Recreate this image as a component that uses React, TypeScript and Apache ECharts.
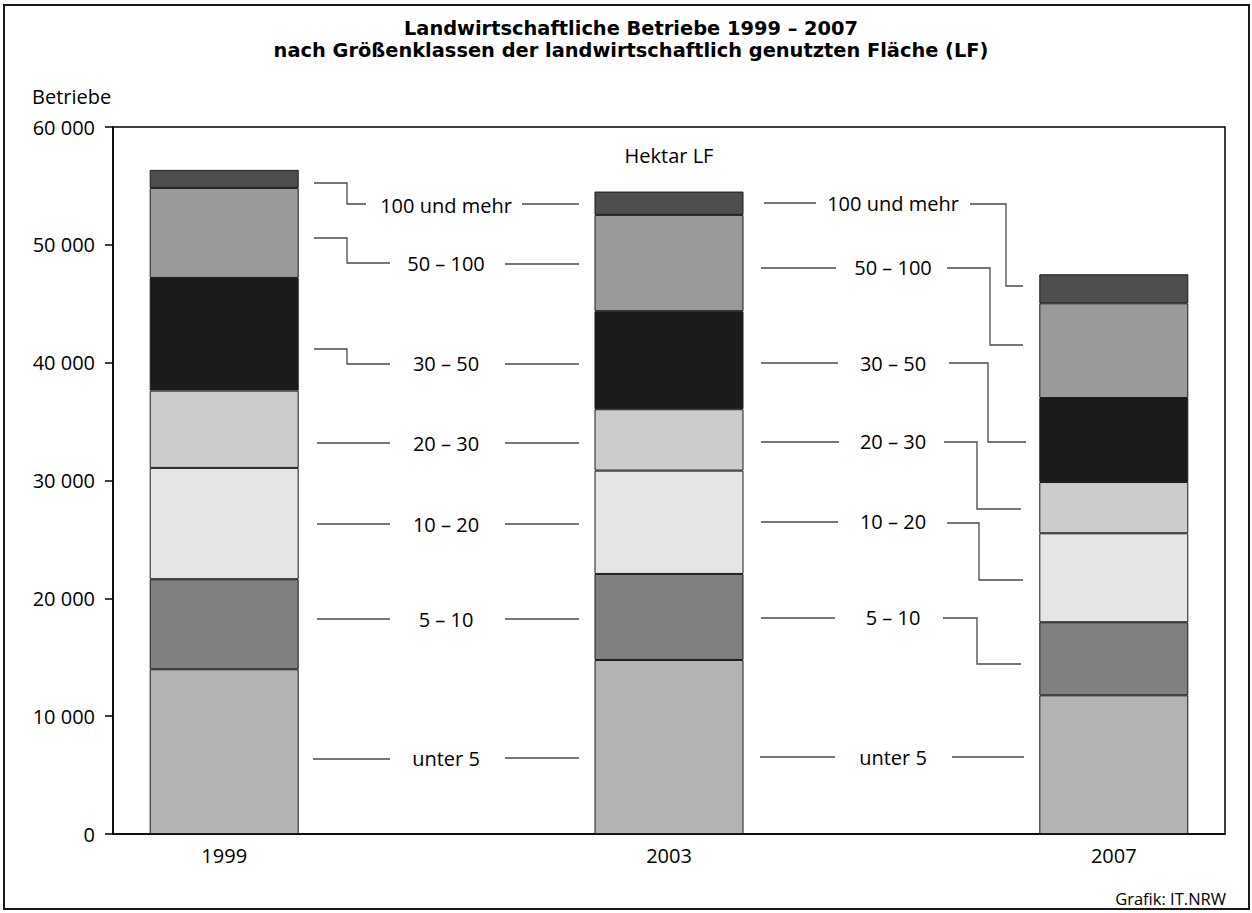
import React, { useEffect, useRef } from "react";
import * as echarts from "echarts";

// ---- data ----
const categories = ["1999", "", "2003", "", "2007"];
const classNames = ["unter 5", "5 – 10", "10 – 20", "20 – 30", "30 – 50", "50 – 100", "100 und mehr"];
const unter5 = [13980, null, 14770, null, 11770];
const ha5bis10 = [7640, null, 7300, null, 6200];
const ha10bis20 = [9450, null, 8770, null, 7550];
const ha20bis30 = [6560, null, 5210, null, 4350];
const ha30bis50 = [9560, null, 8320, null, 7130];
const ha50bis100 = [7640, null, 8170, null, 8040];
const ha100plus = [1530, null, 1980, null, 2460];
const yTicks = [0, 10000, 20000, 30000, 40000, 50000, 60000];
const titleLines = [
  "Landwirtschaftliche Betriebe 1999 – 2007",
  "nach Größenklassen der landwirtschaftlich genutzten Fläche (LF)",
];

const seriesValues = [unter5, ha5bis10, ha10bis20, ha20bis30, ha30bis50, ha50bis100, ha100plus];
const colors = ["#b3b3b3", "#808080", "#e5e5e5", "#cccccc", "#1b1b1b", "#9a9a9a", "#4e4e4e"];

// ---- annotation layout (leader lines, pixels) ----
const FONT = '"Open Sans", "Noto Sans", sans-serif';
const TITLE_FONT = '"DejaVu Sans", "Open Sans", sans-serif';
const gap1Labels = [
  { y: 205, left: [[314, 183], [347, 183], [347, 204], [366, 204]], right: [[522, 204], [579, 204]] },
  { y: 263, left: [[314, 238], [347, 238], [347, 263], [390, 263]], right: [[505, 264], [579, 264]] },
  { y: 363, left: [[314, 349], [347, 349], [347, 364], [390, 364]], right: [[505, 364], [579, 364]] },
  { y: 443, left: [[317, 443], [390, 443]], right: [[505, 443], [579, 443]] },
  { y: 524, left: [[317, 524], [390, 524]], right: [[505, 524], [579, 524]] },
  { y: 619, left: [[317, 619], [390, 619]], right: [[505, 619], [579, 619]] },
  { y: 758, left: [[313, 759], [390, 759]], right: [[505, 758], [579, 758]] },
];
const gap2Labels = [
  { y: 203, left: [[764, 203], [816, 203]], right: [[970, 204], [1006, 204], [1006, 286], [1023, 286]] },
  { y: 267, left: [[761, 268], [836, 268]], right: [[947, 268], [990, 268], [990, 345], [1023, 345]] },
  { y: 363, left: [[761, 363], [838, 363]], right: [[949, 363], [988, 363], [988, 442], [1026, 442]] },
  { y: 441, left: [[761, 442], [839, 442]], right: [[944, 442], [977, 442], [977, 509], [1021, 509]] },
  { y: 521, left: [[761, 522], [838, 522]], right: [[947, 523], [979, 523], [979, 580], [1023, 580]] },
  { y: 617, left: [[761, 618], [835, 618]], right: [[943, 618], [977, 618], [977, 664], [1021, 664]] },
  { y: 757, left: [[760, 757], [835, 757]], right: [[952, 757], [1024, 757]] },
];
// order of labels top to bottom
const labelOrder = ["100 und mehr", "50 – 100", "30 – 50", "20 – 30", "10 – 20", "5 – 10", "unter 5"];

function fmt(v: number) {
  return String(v).replace(/\B(?=(\d{3})+(?!\d))/g, " ");
}

export default function App() {
  const ref = useRef<HTMLDivElement>(null);
  useEffect(() => {
    if (!ref.current) return;
    const chart = echarts.init(ref.current, null, { renderer: "svg" });

    const graphics: any[] = [];
    graphics.push({
      type: "rect",
      shape: { x: 4, y: 5, width: 1245, height: 904 },
      style: { fill: "none", stroke: "#1a1a1a", lineWidth: 2 },
      silent: true,
    });
    titleLines.forEach((t, i) => {
      graphics.push({
        type: "text",
        x: 631,
        y: 28 + i * 22,
        style: {
          text: t,
          align: "center",
          verticalAlign: "middle",
          fontSize: 19.4,
          fontWeight: "bold",
          fontFamily: TITLE_FONT,
          fill: "#000",
        },
      });
    });
    graphics.push({
      type: "text",
      x: 32,
      y: 96,
      style: { text: "Betriebe", align: "left", verticalAlign: "middle", fontSize: 20, fontFamily: FONT, fill: "#000" },
    });
    graphics.push({
      type: "text",
      x: 669,
      y: 155,
      style: { text: "Hektar LF", align: "center", verticalAlign: "middle", fontSize: 20, fontFamily: FONT, fill: "#000" },
    });
    graphics.push({
      type: "text",
      x: 1226,
      y: 898,
      style: { text: "Grafik: IT.NRW", align: "right", verticalAlign: "middle", fontSize: 16.5, fontFamily: FONT, fill: "#000" },
    });

    const addGap = (defs: any[], cx: number) => {
      defs.forEach((d, i) => {
        graphics.push({
          type: "text",
          x: cx,
          y: d.y,
          style: { text: labelOrder[i], align: "center", verticalAlign: "middle", fontSize: 20, fontFamily: FONT, fill: "#000" },
        });
        [d.left, d.right].forEach((pts: number[][]) => {
          graphics.push({
            type: "polyline",
            shape: { points: pts },
            style: { stroke: "#4a4a4a", lineWidth: 1.3, fill: "none" },
            silent: true,
          });
        });
      });
    };
    addGap(gap1Labels, 446);
    addGap(gap2Labels, 893);

    chart.setOption({
      animation: false,
      grid: {
        left: 113,
        top: 127,
        right: 27,
        bottom: 79,
        show: true,
        borderColor: "#000",
        borderWidth: 1.5,
        backgroundColor: "transparent",
      },
      xAxis: {
        type: "category",
        data: categories,
        axisLine: { lineStyle: { color: "#000", width: 1.5 } },
        axisTick: { show: false },
        axisLabel: { color: "#000", fontSize: 20, fontFamily: FONT, margin: 11, interval: 0 },
        splitLine: { show: false },
      },
      yAxis: {
        type: "value",
        min: yTicks[0],
        max: yTicks[yTicks.length - 1],
        interval: 10000,
        axisLine: { show: true, lineStyle: { color: "#000", width: 1.5 } },
        axisTick: { show: true, length: 8, lineStyle: { color: "#000", width: 1.5 } },
        axisLabel: { color: "#000", fontSize: 20, fontFamily: FONT, margin: 18, formatter: (v: number) => fmt(v) },
        splitLine: { show: false },
      },
      series: seriesValues.map((vals, i) => ({
        name: classNames[i],
        type: "bar",
        stack: "total",
        data: vals,
        barWidth: 149,
        itemStyle: { color: colors[i], borderColor: "#1a1a1a", borderWidth: 1 },
      })),
      graphic: graphics,
    });

    return () => chart.dispose();
  }, []);

  return (
    <div
      ref={ref}
      style={{ position: "absolute", left: 0, top: 0, width: 1252, height: 913, background: "#fff" }}
    />
  );
}
